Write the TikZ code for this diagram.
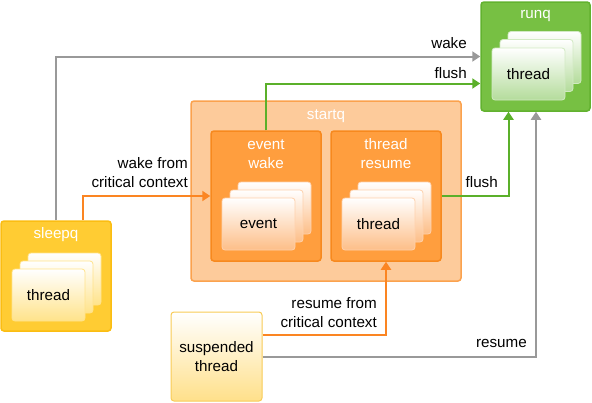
\documentclass[tikz,border=0pt]{standalone}
\usepackage{fontspec}
\setmainfont{Liberation Sans}
\usetikzlibrary{positioning,arrows.meta}

\begin{document}
\begin{tikzpicture}[
        x=1pt, y=-1pt,
        font=\fontsize{15.2}{19}\selectfont,
    ]

    \tikzstyle{queue} = [rectangle, rounded corners=3pt, line width=1.5pt, inner sep=0pt];
    \tikzstyle{card} = [rectangle, rounded corners=3pt, line width=0.8pt, inner sep=0pt,
                        minimum width=73pt, minimum height=52pt];
    \tikzstyle{qtitle} = [text=white, inner sep=0pt, align=center, anchor=base];
    \tikzstyle{lbl} = [inner sep=0pt, align=right, anchor=base east];
    \tikzstyle{link} = [-{Triangle[length=8pt, width=10pt]}, line width=2pt];

    \definecolor{runqfill}{HTML}{77C043}
    \definecolor{runqedge}{HTML}{62B22F}
    \definecolor{runqcard}{HTML}{B4DC9B}
    \definecolor{linkgreen}{HTML}{5BB02A}
    \definecolor{startqfill}{HTML}{FDCB9B}
    \definecolor{startqedge}{HTML}{FBA24E}
    \definecolor{stagefill}{HTML}{FF9E3E}
    \definecolor{stageedge}{HTML}{F7891E}
    \definecolor{stagecard}{HTML}{FDBE88}
    \definecolor{linkorange}{HTML}{FB8522}
    \definecolor{sleepqfill}{HTML}{FFCC33}
    \definecolor{sleepqedge}{HTML}{FBBD12}
    \definecolor{sleepqcard}{HTML}{FFE38A}
    \definecolor{suspfill}{HTML}{FFE08A}
    \definecolor{suspedge}{HTML}{F8CB56}
    \definecolor{linkgrey}{HTML}{999999}

    \useasboundingbox (0,0) rectangle (592,402);

    % Queues
    \node[queue, fill=runqfill, draw=runqedge, minimum width=109pt, minimum height=109pt]
        (runq) at (535.5,56.5) {};
    \node[qtitle] (runqtitle) at (535.5,18) {runq};
    \node[queue, fill=startqfill, draw=startqedge, minimum width=270pt, minimum height=180pt]
        (startq) at (326,191) {};
    \node[qtitle] (startqtitle) at (326,119) {startq};
    \node[queue, fill=stagefill, draw=stageedge, minimum width=110pt, minimum height=130pt]
        (eventwake) at (266,196) {};
    \node[qtitle] (eventwaketitle) at (266,168) {event\\wake};
    \node[queue, fill=stagefill, draw=stageedge, minimum width=110pt, minimum height=130pt]
        (threadresume) at (386,196) {};
    \node[qtitle] (threadresumetitle) at (386,168) {thread\\resume};
    \node[queue, fill=sleepqfill, draw=sleepqedge, minimum width=110pt, minimum height=110pt]
        (sleepq) at (56,276) {};
    \node[qtitle] (sleepqtitle) at (56,238) {sleepq};
    \node[queue, line width=1pt, top color=white, bottom color=suspfill, draw=suspedge,
          minimum width=91pt, minimum height=89pt, align=center]
        (suspended) at (216.5,356.5) {suspended\\thread};

    % Cards
    \node[card, top color=white, bottom color=runqcard, draw=runqcard!60] (runqback) at (544.5,57.5) {};
    \node[card, top color=white, bottom color=runqcard, draw=runqcard!60] (runqmid) at (536.5,65.5) {};
    \node[card, top color=white, bottom color=runqcard, draw=runqcard!60] (runqfront) at (528.5,74) {thread};

    \node[card, top color=white, bottom color=stagecard, draw=stagecard!70] (eventback) at (274.5,208) {};
    \node[card, top color=white, bottom color=stagecard, draw=stagecard!70] (eventmid) at (266.5,216) {};
    \node[card, top color=white, bottom color=stagecard, draw=stagecard!70] (eventfront) at (258.5,224) {event};

    \node[card, top color=white, bottom color=stagecard, draw=stagecard!70] (threadback) at (394.5,208) {};
    \node[card, top color=white, bottom color=stagecard, draw=stagecard!70] (threadmid) at (386.5,216) {};
    \node[card, top color=white, bottom color=stagecard, draw=stagecard!70] (threadfront) at (378.5,224) {thread};

    \node[card, top color=white, bottom color=sleepqcard, draw=sleepqcard] (sleepback) at (64.5,279) {};
    \node[card, top color=white, bottom color=sleepqcard, draw=sleepqcard] (sleepmid) at (56.5,287) {};
    \node[card, top color=white, bottom color=sleepqcard, draw=sleepqcard] (sleepfront) at (48.5,295) {thread};

    % Arrows
    \draw[link, linkgrey] (sleepq.north) |- (runq.west);
    \node[lbl] (wakelbl) at (467,48) {wake};
    \draw[link, linkgreen] (eventwake.north) |- ([yshift=-27pt]runq.west);
    \node[lbl] (flushtoplbl) at (467,78) {flush};
    \draw[link, linkorange] ([xshift=27pt]sleepq.north) |- (eventwake.west);
    \node[lbl] (wakecritlbl) at (188,187) {wake from\\critical context};
    \draw[link, linkgreen] (threadresume.east) -| ([xshift=-27pt]runq.south);
    \node[lbl] (flushrightlbl) at (498,187) {flush};
    \draw[link, linkorange] ([yshift=22pt]suspended.east) -| (threadresume.south);
    \node[lbl] (resumecritlbl) at (377,327) {resume from\\critical context};
    \draw[link, linkgrey] (suspended.east) -| ([xshift=0.5pt]runq.south);
    \node[lbl] (resumelbl) at (527,347) {resume};

\end{tikzpicture}
\end{document}
